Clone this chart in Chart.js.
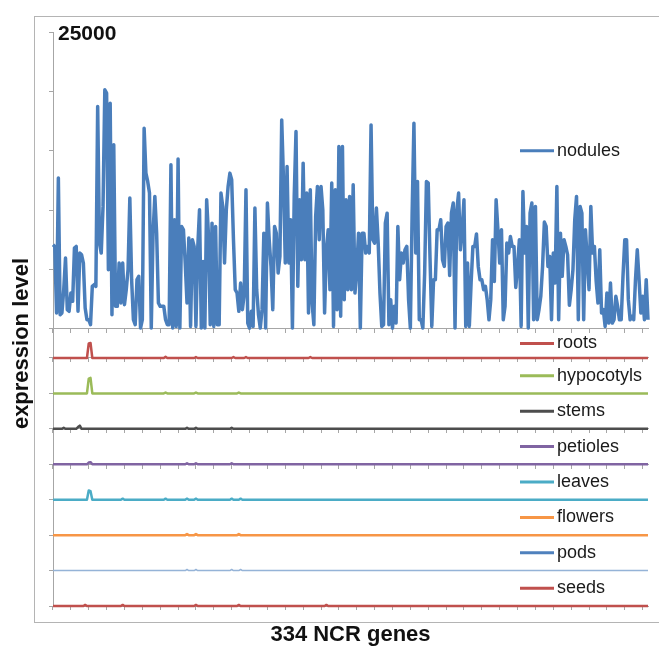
<!DOCTYPE html>
<html>
<head>
<meta charset="utf-8">
<title>NCR gene expression</title>
<script src="https://cdn.jsdelivr.net/npm/chart.js@4.4.0/dist/chart.umd.min.js"></script>
<style>
  html, body { margin: 0; padding: 0; background: #fff; overflow: hidden; }
  #wrap { position: relative; width: 659px; height: 646px; }
  #frame { position: absolute; left: 34px; top: 16px; width: 700px; height: 605px; border: 1px solid #b4b4b4; pointer-events: none; }
</style>
</head>
<body>
<div id="wrap">
  <canvas id="ncrChart" width="659" height="646"></canvas>
  <div id="frame"></div>
</div>
<script>
// expression level of each NCR gene in nodules (left to right)
const nodules = [
    7090, 6950, 1350, 12700, 1200, 1350, 3300, 5970, 1630, 1490,
    3030, 2330, 6810, 6950, 1490, 6390, 6250, 5550, 1770, 780,
    780, 360, 3590, 3730, 3590, 18720, 7230, 6390, 10320, 20130,
    19850, 4990, 19000, 1200, 15500, 1910, 1910, 5550, 2190, 5550,
    2050, 3310, 4990, 11020, 4150, 780, 360, 4150, 4430, 80,
    780, 16900, 13120, 12420, 11440, 80, 8070, 11160, 8070, 2190,
    1910, 1910, 1910, 780, 360, 360, 13820, 80, 9190, 220,
    14300, 80, 8630, 8350, 5550, 2190, 7650, 220, 7510, 6950,
    220, 6810, 10030, 80, 5690, 80, 10880, 7930, 360, 8910,
    220, 8630, 360, 360, 11440, 10320, 5550, 10030, 12000, 13120,
    12560, 7510, 3310, 3030, 1490, 3870, 1630, 2890, 11720, 500,
    80, 1490, 220, 10180, 3310, 1200, 80, 1630, 8070, 80,
    10600, 7510, 5270, 1630, 8630, 8070, 4710, 6110, 17600, 12560,
    5550, 13680, 5550, 9190, 80, 11160, 16620, 3590, 10880, 5830,
    13960, 5830, 11440, 1350, 11720, 2190, 360, 9470, 12000, 7510,
    12000, 10030, 1350, 6670, 8350, 3310, 12280, 220, 11720, 1630,
    15360, 1070, 15360,
    2470, 10880, 3310, 11160, 3310, 12140, 3030, 5000, 8070, 80,
    8070, 8070, 6390, 6950, 6390, 17180, 7510, 7230, 10180, 7230, 3000,
    220, 360, 8910, 9750, 360, 2470, 80, 1910, 500, 8630,
    4150, 6390, 5550, 6670, 6950, 2500, 80, 9750, 17320, 6390,
    12420, 780, 780, 80, 4710, 12420, 12280, 6000, 220, 4150,
    4150, 8350, 8350, 9190, 5830, 5270, 8630, 8910, 4500, 9750,
    10600, 80, 10030, 11440, 6670, 8350, 10880, 220, 5550, 220,
    3870, 6950, 6950, 8000, 5270, 4150, 4150, 3310, 3590, 2470,
    780, 2470, 7510, 4000, 10880, 8350, 5550, 8350, 780, 1910,
    7230, 6390, 7790, 6950, 6950, 3500, 5270, 7510, 220, 11580,
    6390, 8630, 80, 9750, 10600, 780, 10320, 780, 1630, 2750,
    5270, 9000, 8630, 5270, 6110, 780, 6390, 3870, 12000, 780,
    8070, 4430, 7510, 6950, 6250, 2000, 3310, 4990, 9190, 11160,
    780, 10320, 9750, 780, 8350, 5830, 3310, 10320, 6390, 6950,
    4000, 2190, 6670, 1350, 1630, 220, 3030, 500, 3870, 500,
    780, 2750, 1910, 780, 780, 4430, 7510, 7510, 2470,
    780, 1070, 780, 4150, 6670, 4150, 1350, 2750, 780, 4150, 780
];

// other organs are almost flat: [gene index, level] for the few genes above zero
const rootsPeaks = [[20, 2500], [21, 2600], [63, 200], [80, 150], [101, 150], [108, 150], [144, 150]];
const hypocotylsPeaks = [[20, 2100], [21, 2200], [63, 120], [80, 120], [104, 120]];
const stemsPeaks = [[6, 150], [14, 250], [15, 450], [75, 150], [80, 150], [100, 150]];
const petiolesPeaks = [[20, 250], [21, 300], [75, 150], [80, 150], [100, 150]];
const leavesPeaks = [[20, 1300], [21, 1200], [39, 150], [63, 150], [75, 150], [80, 150], [100, 150], [105, 150]];
const flowersPeaks = [[75, 150], [80, 150], [104, 150]];
const podsPeaks = [[75, 150], [80, 150], [100, 150], [105, 150]];
const seedsPeaks = [[18, 150], [39, 150], [80, 150], [104, 150], [153, 150]];

const labels = nodules.map((v, i) => i + 1);

function fromPeaks(peaks) {
    const values = labels.map(() => 0);
    peaks.forEach(([i, v]) => { values[i] = v; });
    return values;
}

const gray = '#a6a6a6';
const titleFont = { family: '"Liberation Sans", Arial, sans-serif', size: 22, weight: 'bold', lineHeight: 1 };

// only every 10th gene gets a tick mark
function everyTenth(axis) {
    axis.ticks = axis.ticks.filter(t => t.value % 10 === 0);
}

// x axis drawn again along the baseline of some panels
function baselineAxis(yId) {
    return {
        type: 'category',
        position: { [yId]: 0 },
        ticks: { display: false, autoSkip: false },
        grid: { drawOnChartArea: false, tickLength: 4, color: gray },
        border: { color: gray },
        afterBuildTicks: everyTenth
    };
}

// one small panel per organ, stacked under the nodules panel
function smallAxis(weight, title) {
    return {
        stack: 'panels',
        stackWeight: weight,
        position: 'left',
        min: 0,
        max: 5000,
        ticks: { display: false },
        afterBuildTicks: axis => { axis.ticks = [{ value: 0 }]; },
        grid: { drawOnChartArea: false, tickLength: 4, color: gray },
        border: { color: gray },
        title: title ? {
            display: true,
            text: title,
            color: '#111',
            font: titleFont,
            padding: { top: 11, bottom: 16 }
        } : { display: false }
    };
}

const small = 248 / 7;

// stacked scales are placed bottom-up, so the lowest panel comes first
const scales = {
    x: {
        type: 'category',
        ticks: { display: false, autoSkip: false },
        grid: { drawOnChartArea: false, tickLength: 4, color: gray },
        border: { color: gray },
        afterBuildTicks: everyTenth,
        title: {
            display: true,
            text: '334 NCR genes',
            color: '#111',
            font: titleFont,
            padding: { top: 14, bottom: 0 }
        }
    },
    xNodules: baselineAxis('yNodules'),
    xRoots: baselineAxis('yRoots'),
    xStems: baselineAxis('yStems'),
    xPetioles: baselineAxis('yPetioles'),
    ySeeds: smallAxis(small),
    yPods: smallAxis(small),
    yFlowers: smallAxis(small),
    yLeaves: smallAxis(small),
    yPetioles: smallAxis(small),
    yStems: smallAxis(small),
    yHypocotyls: smallAxis(small),
    yRoots: smallAxis(29, 'expression level'),
    yNodules: {
        stack: 'panels',
        stackWeight: 297,
        position: 'left',
        min: 0,
        max: 25000,
        ticks: {
            stepSize: 5000,
            mirror: true,
            padding: 5,
            labelOffset: 2,
            color: '#111',
            font: { family: '"Liberation Sans", Arial, sans-serif', size: 21, weight: 'bold' },
            callback: v => v === 25000 ? '25000' : ''
        },
        grid: { drawOnChartArea: false, tickLength: 4, color: gray },
        border: { color: gray }
    }
};

function series(label, data, yAxisID, color, extra) {
    return Object.assign({
        label: label,
        data: data,
        xAxisID: 'x',
        yAxisID: yAxisID,
        borderColor: color,
        backgroundColor: color,
        borderWidth: 2.5,
        pointRadius: 0,
        tension: 0,
        borderJoinStyle: 'round',
        clip: false
    }, extra || {});
}

const datasets = [
    series('nodules', nodules, 'yNodules', '#4a7ebb', { borderWidth: 3.5, legendAt: 15000 }),
    series('roots', fromPeaks(rootsPeaks), 'yRoots', '#c0504d'),
    series('hypocotyls', fromPeaks(hypocotylsPeaks), 'yHypocotyls', '#9bbb59'),
    series('stems', fromPeaks(stemsPeaks), 'yStems', '#4d4d4d'),
    series('petioles', fromPeaks(petiolesPeaks), 'yPetioles', '#8064a2'),
    series('leaves', fromPeaks(leavesPeaks), 'yLeaves', '#4bacc6'),
    series('flowers', fromPeaks(flowersPeaks), 'yFlowers', '#f79646'),
    series('pods', fromPeaks(podsPeaks), 'yPods', '#95b3d7', { borderWidth: 1.5, legendColor: '#4f81bd' }),
    series('seeds', fromPeaks(seedsPeaks), 'ySeeds', '#c0504d')
];

// legend entry drawn inside each panel, at the right
const panelLegend = {
    id: 'panelLegend',
    afterDatasetsDraw(chart) {
        const ctx = chart.ctx;
        const area = chart.chartArea;
        const x0 = area.right - 128;
        ctx.save();
        ctx.font = '18px "Liberation Sans", Arial, sans-serif';
        ctx.textBaseline = 'middle';
        chart.data.datasets.forEach(ds => {
            const axis = chart.scales[ds.yAxisID];
            const y = ds.legendAt !== undefined ? axis.getPixelForValue(ds.legendAt) : (axis.top + axis.bottom) / 2;
            ctx.strokeStyle = ds.legendColor || ds.borderColor;
            ctx.lineWidth = 3;
            ctx.beginPath();
            ctx.moveTo(x0, y);
            ctx.lineTo(x0 + 34, y);
            ctx.stroke();
            ctx.fillStyle = '#1a1a1a';
            ctx.fillText(ds.label, x0 + 37, y);
        });
        ctx.restore();
    }
};

new Chart(document.getElementById('ncrChart'), {
    type: 'line',
    data: { labels: labels, datasets: datasets },
    options: {
        responsive: false,
        animation: false,
        layout: { padding: { left: 0, top: 32, right: 11, bottom: 0 } },
        plugins: {
            legend: { display: false },
            tooltip: { enabled: false }
        },
        scales: scales
    },
    plugins: [panelLegend]
});
</script>
</body>
</html>
